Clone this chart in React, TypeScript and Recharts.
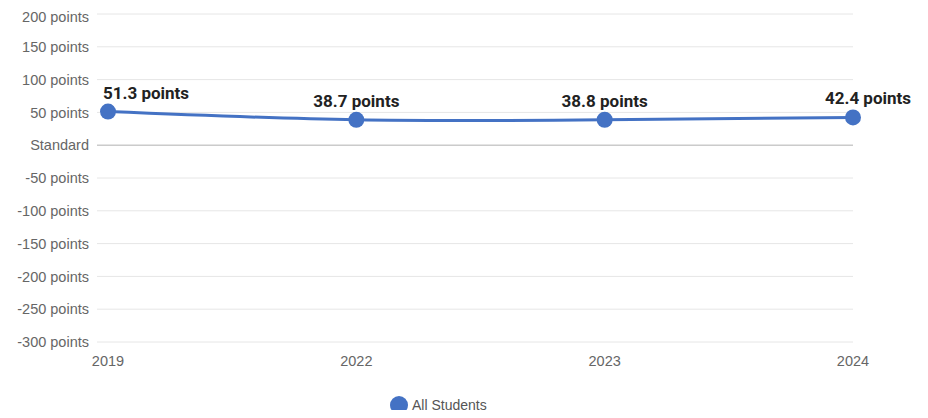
import React from 'react';
import { LineChart, Line, XAxis, YAxis, CartesianGrid, ReferenceLine, Legend, LabelList } from 'recharts';

const years = ['2019', '2022', '2023', '2024'];
const allStudents = [51.3, 38.7, 38.8, 42.4];
const yTicks = [-300, -250, -200, -150, -100, -50, 0, 50, 100, 150, 200];
const seriesName = 'All Students';

const data = years.map((year, i) => ({ year, value: allStudents[i] }));

const BLUE = '#4472c4';
const AXIS_FONT = { fill: '#666', fontSize: 14.5, fontFamily: 'Liberation Sans, Arial, sans-serif' };

const formatY = (v: number) => (v === 0 ? 'Standard' : `${v} points`);

// first label hugs the point from the left edge, last one is nudged right
const PointLabel = (props: any) => {
  const { x, y, index, value } = props;
  let anchor: 'start' | 'middle' | 'end' = 'middle';
  let dx = 0;
  if (index === 0) {
    anchor = 'start';
    dx = -5;
  } else if (index === years.length - 1) {
    dx = 15;
  }
  return (
    <text
      x={x + dx}
      y={y - 13}
      textAnchor={anchor}
      fill="#222"
      fontFamily="Roboto, sans-serif"
      fontWeight={700}
      fontSize={17}
    >
      {`${value} points`}
    </text>
  );
};

const LegendContent = () => (
  <div style={{ display: 'flex', alignItems: 'center', lineHeight: '20px', fontFamily: 'Liberation Sans, Arial, sans-serif', fontSize: 14, color: '#555' }}>
    <svg width={20} height={20} style={{ marginRight: 3, display: 'block' }}>
      <circle cx={10} cy={10} r={9} fill={BLUE} />
    </svg>
    <span>{seriesName}</span>
  </div>
);

export default function App() {
  // negative bottom margin eats the body margin so the page stays 418 tall
  return (
    <div style={{ width: 912, height: 410, marginBottom: -8 }}>
      <LineChart width={912} height={410} data={data} margin={{ top: 6, right: 67, bottom: 46, left: 0 }}>
        <CartesianGrid vertical={false} stroke="#e6e6e6" />
        <XAxis
          dataKey="year"
          axisLine={false}
          tickLine={false}
          tickMargin={8}
          padding={{ left: 11, right: 0 }}
          tick={AXIS_FONT}
        />
        <YAxis
          width={89}
          domain={[-300, 200]}
          ticks={yTicks}
          axisLine={false}
          tickLine={false}
          tickFormatter={formatY}
          tick={AXIS_FONT}
        />
        <ReferenceLine y={0} stroke="#bbbbbb" />
        <Legend
          layout="horizontal"
          verticalAlign="middle"
          align="center"
          content={<LegendContent />}
          wrapperStyle={{ top: 387, left: 381, width: 'auto', height: 22 }}
        />
        <Line
          type="natural"
          dataKey="value"
          name={seriesName}
          stroke={BLUE}
          strokeWidth={3}
          dot={{ r: 8, fill: BLUE, stroke: BLUE, strokeWidth: 0 }}
          activeDot={false}
          isAnimationActive={false}
        >
          <LabelList dataKey="value" content={<PointLabel />} />
        </Line>
      </LineChart>
    </div>
  );
}
